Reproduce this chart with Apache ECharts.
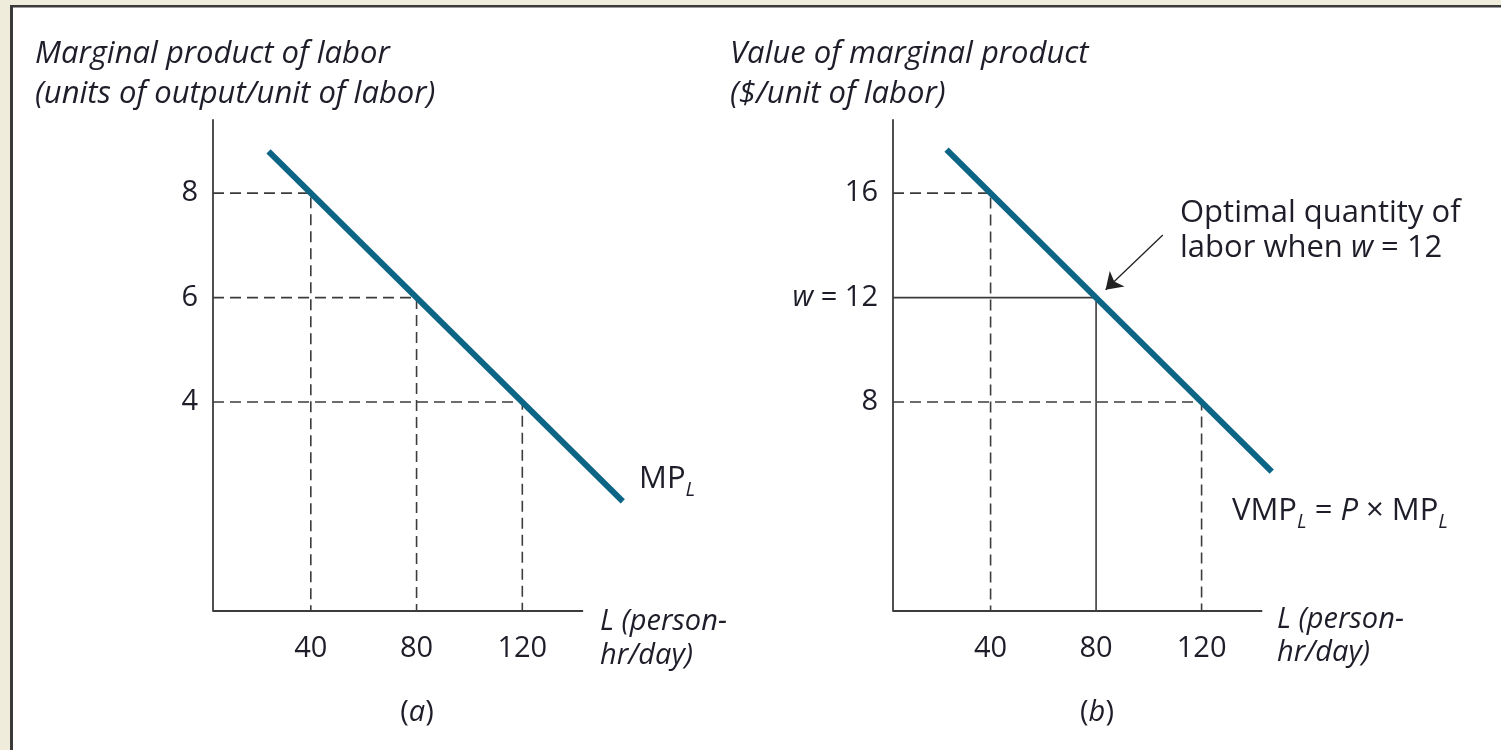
<!DOCTYPE html>
<html>
<head>
<meta charset="utf-8">
<script src="https://cdn.jsdelivr.net/npm/echarts@6/dist/echarts.min.js"></script>
<style>
html,body{margin:0;padding:0;background:#efecdc;}
#c{width:1501px;height:750px;}
</style>
</head>
<body>
<div id="c"></div>
<script>
// ---- data ----
const xTicks = [40, 80, 120];
const mpTicks = [4, 6, 8];
const vmpTicks = [8, 12, 16];
const mpCurve = [[24, 8.8], [158, 2.1]];
const vmpCurve = [[23.3, 17.67], [146.6, 5.34]];
const mpGuides = [[40, 8], [80, 6], [120, 4]];
const vmpGuides = [[40, 16], [120, 8]];
const wage = 12;
const optimalL = 80;
const arrowFrom = [105.3, 14.4];
const arrowTo = [83.6, 12.3];
const xMin = 3, xAxisEnd = 143, xMax = 163;
const mpMax = 9.4, vmpMax = 18.8;

const FONT = 'Open Sans';
const TXT = '#1e1e2a';
const AX = '#3c3c3c';
const CURVE = '#0d6586';
const TF = 'italic 31px "Open Sans"';

function guideSeries(pts, gi, dashed) {
  return pts.map(p => ({
    type: 'line', xAxisIndex: gi, yAxisIndex: gi, z: 3,
    symbol: 'none', silent: true, animation: false,
    data: [[xMin, p[1]], [p[0], p[1]], [p[0], 0]],
    lineStyle: { color: AX, width: 1.6, type: dashed ? [11, 6] : 'solid' }
  }));
}
function baseSeries(gi) {
  return {
    type: 'line', xAxisIndex: gi, yAxisIndex: gi, z: 4,
    symbol: 'none', silent: true, animation: false,
    data: [[xMin, 0], [xAxisEnd, 0]],
    lineStyle: { color: AX, width: 1.8 }
  };
}

function xAxisOpt(gi) {
  return {
    type: 'value', gridIndex: gi, min: xMin, max: xMax,
    splitLine: { show: false }, axisTick: { show: false },
    axisLine: { show: false },
    axisLabel: { customValues: xTicks, fontFamily: FONT, fontSize: 29, color: TXT, margin: 23 }
  };
}

const subRich = {
  n: { fontFamily: FONT, fontSize: 31, color: TXT, verticalAlign: 'middle', lineHeight: 42 },
  i: { fontFamily: FONT, fontSize: 31, fontStyle: 'italic', color: TXT, verticalAlign: 'middle', lineHeight: 42 },
  s: { fontFamily: FONT, fontSize: 20, fontStyle: 'italic', color: TXT, verticalAlign: 'bottom', lineHeight: 25 }
};

const option = {
  backgroundColor: '#efecdc',
  animation: false,
  grid: [
    { left: 213, top: 120, width: 423, bottom: 139 },
    { left: 893, top: 120, width: 422, bottom: 139 }
  ],
  xAxis: [xAxisOpt(0), xAxisOpt(1)],
  yAxis: [
    {
      type: 'value', gridIndex: 0, min: 0, max: mpMax,
      splitLine: { show: false }, axisTick: { show: false },
      axisLine: { onZero: false, lineStyle: { color: AX, width: 1.8 } },
      axisLabel: { customValues: mpTicks, fontFamily: FONT, fontSize: 29, color: TXT, margin: 15 }
    },
    {
      type: 'value', gridIndex: 1, min: 0, max: vmpMax,
      splitLine: { show: false }, axisTick: { show: false },
      axisLine: { onZero: false, lineStyle: { color: AX, width: 1.8 } },
      axisLabel: {
        customValues: vmpTicks, fontFamily: FONT, fontSize: 29, color: TXT, margin: 15,
        formatter: v => v === wage ? '{i|w} = ' + wage : String(v),
        rich: { i: { fontFamily: FONT, fontStyle: 'italic', fontSize: 29, color: TXT } }
      }
    }
  ],
  series: [
    baseSeries(0), baseSeries(1),
    ...guideSeries(mpGuides, 0, true),
    ...guideSeries(vmpGuides, 1, true),
    ...guideSeries([[optimalL, wage]], 1, false),
    {
      type: 'line', xAxisIndex: 0, yAxisIndex: 0, z: 5,
      symbol: 'none', data: mpCurve,
      lineStyle: { color: CURVE, width: 6, cap: 'butt' }
    },
    {
      type: 'line', xAxisIndex: 1, yAxisIndex: 1, z: 5,
      symbol: 'none', data: vmpCurve,
      lineStyle: { color: CURVE, width: 6, cap: 'butt' }
    },
    {
      type: 'line', xAxisIndex: 1, yAxisIndex: 1, z: 8,
      symbol: 'none', data: [], silent: true,
      markLine: {
        silent: true, animation: false, z: 10,
        symbol: ['none', 'arrow'], symbolSize: 16,
        label: { show: false },
        lineStyle: { color: '#222', width: 1.3, type: 'solid' },
        data: [[{ coord: arrowFrom }, { coord: arrowTo }]]
      }
    }
  ],
  graphic: [
    { type: 'rect', z: -100, silent: true, shape: { x: 11, y: 5, width: 1490, height: 745 }, style: { fill: '#fff' } },
    { type: 'rect', z: -99, silent: true, shape: { x: 10, y: 5, width: 3, height: 745 }, style: { fill: '#3a3a3a' } },
    { type: 'rect', z: -99, silent: true, shape: { x: 10, y: 5, width: 1491, height: 2.5 }, style: { fill: '#3a3a3a' } },
    { type: 'text', left: 35, top: 39, style: { text: 'Marginal product of labor', font: TF, fill: TXT } },
    { type: 'text', left: 35, top: 79, style: { text: '(units of output/unit of labor)', font: TF, fill: TXT } },
    { type: 'text', left: 730, top: 39, style: { text: 'Value of marginal product', font: TF, fill: TXT } },
    { type: 'text', left: 730, top: 79, style: { text: '($/unit of labor)', font: TF, fill: TXT } },
    { type: 'text', left: 600, top: 607, style: { text: 'L (person-', font: 'italic 29px "Open Sans"', fill: TXT } },
    { type: 'text', left: 600, top: 641, style: { text: 'hr/day)', font: 'italic 29px "Open Sans"', fill: TXT } },
    { type: 'text', left: 1277, top: 605, style: { text: 'L (person-', font: 'italic 29px "Open Sans"', fill: TXT } },
    { type: 'text', left: 1277, top: 638, style: { text: 'hr/day)', font: 'italic 29px "Open Sans"', fill: TXT } },
    { type: 'text', x: 417, y: 713, style: { text: '({i|a})', font: '29px "Open Sans"', fill: TXT, align: 'center', verticalAlign: 'middle',
        rich: { i: { fontFamily: FONT, fontSize: 29, fontStyle: 'italic', fill: TXT } } } },
    { type: 'text', x: 1097, y: 713, style: { text: '({i|b})', font: '29px "Open Sans"', fill: TXT, align: 'center', verticalAlign: 'middle',
        rich: { i: { fontFamily: FONT, fontSize: 29, fontStyle: 'italic', fill: TXT } } } },
    { type: 'text', left: 639, top: 464, style: { text: '{n|MP}{s|L}', fill: TXT, rich: subRich } },
    { type: 'text', left: 1232, top: 496, style: { text: '{n|VMP}{s|L}{n| = }{i|P}{n| × MP}{s|L}', fill: TXT, rich: subRich } },
    { type: 'text', left: 1180, top: 198, style: { text: 'Optimal quantity of', font: '31px "Open Sans"', fill: TXT } },
    { type: 'text', left: 1180, top: 233, style: {
        text: '{n|labor when }{i|w}{n| = 12}', fill: TXT,
        rich: { n: { fontFamily: FONT, fontSize: 31, color: TXT }, i: { fontFamily: FONT, fontSize: 31, fontStyle: 'italic', color: TXT } } } }
  ]
};

const chart = echarts.init(document.getElementById('c'), null, { renderer: 'canvas' });
chart.setOption(option);
</script>
</body>
</html>
